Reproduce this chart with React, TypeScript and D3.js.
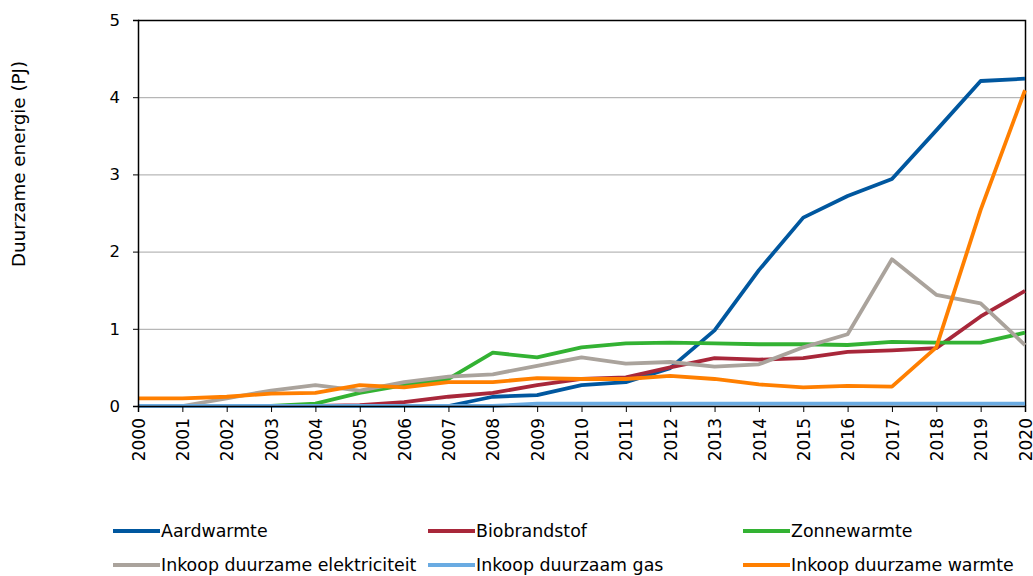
import { useEffect, useRef } from 'react';
import * as d3 from 'd3';

const years = d3.range(2000, 2021);

const seriesNames = [
  'Aardwarmte',
  'Biobrandstof',
  'Zonnewarmte',
  'Inkoop duurzame elektriciteit',
  'Inkoop duurzaam gas',
  'Inkoop duurzame warmte',
];

const seriesColors = ['#00579f', '#a8273a', '#33b233', '#aaa39c', '#6aabe2', '#ff7f00'];

const aardwarmte = [0, 0, 0, 0, 0, 0, 0, 0, 0.12, 0.14, 0.27, 0.31, 0.49, 0.98, 1.76, 2.44, 2.72, 2.94, 3.57, 4.21, 4.24];
const biobrandstof = [0, 0, 0, 0, 0, 0.01, 0.05, 0.12, 0.17, 0.27, 0.35, 0.37, 0.5, 0.62, 0.6, 0.62, 0.7, 0.72, 0.75, 1.16, 1.49];
const zonnewarmte = [0, 0, 0, 0, 0.03, 0.17, 0.27, 0.35, 0.69, 0.63, 0.76, 0.81, 0.82, 0.81, 0.8, 0.8, 0.79, 0.83, 0.82, 0.82, 0.95];
const inkoopElektriciteit = [0, 0, 0.1, 0.2, 0.27, 0.2, 0.31, 0.38, 0.41, 0.52, 0.63, 0.55, 0.57, 0.51, 0.54, 0.76, 0.93, 1.9, 1.44, 1.33, 0.79];
const inkoopGas = [0, 0, 0, 0, 0, 0, 0, 0, 0, 0.03, 0.03, 0.03, 0.03, 0.03, 0.03, 0.03, 0.03, 0.03, 0.03, 0.03, 0.03];
const inkoopWarmte = [0.1, 0.1, 0.12, 0.16, 0.17, 0.27, 0.24, 0.31, 0.31, 0.36, 0.35, 0.35, 0.39, 0.35, 0.28, 0.24, 0.26, 0.25, 0.76, 2.54, 4.09];

const seriesValues = [aardwarmte, biobrandstof, zonnewarmte, inkoopElektriciteit, inkoopGas, inkoopWarmte];

const yTicks = [0, 1, 2, 3, 4, 5];

export default function App() {
  const svgRef = useRef<SVGSVGElement>(null);

  useEffect(() => {
    if (!svgRef.current) return;
    const svg = d3.select(svgRef.current);
    svg.selectAll('*').remove();

    const width = 1033;
    const height = 576;
    const margin = { top: 20, right: 8, bottom: 170, left: 138 };
    const x0 = margin.left;
    const x1 = width - margin.right;
    const y0 = height - margin.bottom;
    const y1 = margin.top;
    const font = '"DejaVu Sans", Verdana, sans-serif';

    const xScale = d3.scaleLinear().domain([2000, 2020]).range([x0, x1]);
    const yScale = d3.scaleLinear().domain([0, 5]).range([y0, y1]);

    // Grid lines
    svg.append('g')
      .selectAll('line')
      .data(yTicks.filter((t) => t > 0 && t < 5))
      .join('line')
      .attr('x1', x0)
      .attr('x2', x1)
      .attr('y1', (d) => yScale(d) + 0.5)
      .attr('y2', (d) => yScale(d) + 0.5)
      .attr('stroke', '#a6a6a6')
      .attr('stroke-width', 1);

    // Frame (top and right)
    svg.append('path')
      .attr('d', `M${x0},${y1 + 0.5}H${x1 + 0.5}V${y0}`)
      .attr('fill', 'none')
      .attr('stroke', '#000')
      .attr('stroke-width', 1.5);

    // Lines
    const line = d3
      .line<number>()
      .x((_, i) => xScale(years[i]))
      .y((d) => yScale(d));

    seriesValues.forEach((vals, i) => {
      svg.append('path')
        .datum(vals)
        .attr('fill', 'none')
        .attr('stroke', seriesColors[i])
        .attr('stroke-width', 3.8)
        .attr('stroke-linejoin', 'round')
        .attr('d', line);
    });

    // Y axis
    const yAxis = d3.axisLeft(yScale).tickValues(yTicks).tickSize(5).tickFormat(d3.format('d'));
    const yg = svg.append('g').attr('transform', `translate(${x0},0)`).call(yAxis);
    yg.select('.domain').attr('stroke', '#000').attr('stroke-width', 1.5);
    yg.selectAll('.tick line').attr('stroke', '#000');
    yg.selectAll('text')
      .attr('font-family', font)
      .attr('font-size', '16.5px')
      .attr('fill', '#000')
      .attr('x', -18);

    // X axis
    const xAxis = d3.axisBottom(xScale).tickValues(years).tickSize(6).tickFormat(d3.format('d'));
    const xg = svg.append('g').attr('transform', `translate(0,${y0})`).call(xAxis);
    xg.select('.domain').attr('stroke', '#000').attr('stroke-width', 1.5);
    xg.selectAll('.tick line').attr('stroke', '#000');
    xg.selectAll('text')
      .attr('font-family', font)
      .attr('font-size', '17px')
      .attr('fill', '#000')
      .attr('transform', 'rotate(-90)')
      .attr('text-anchor', 'end')
      .attr('x', -12)
      .attr('y', 0)
      .attr('dy', '0.36em');

    // Y axis label
    svg.append('text')
      .attr('transform', 'rotate(-90)')
      .attr('x', -164)
      .attr('y', 25)
      .attr('text-anchor', 'middle')
      .attr('font-family', font)
      .attr('font-size', '18.3px')
      .attr('fill', '#000')
      .text('Duurzame energie (PJ)');

    // Legend
    const colX = [113, 428, 743];
    const rowY = [531, 565];
    seriesNames.forEach((name, i) => {
      const lx = colX[i % 3];
      const ly = rowY[Math.floor(i / 3)];
      const item = svg.append('g').attr('transform', `translate(${lx},${ly})`);
      item.append('line')
        .attr('x1', 0)
        .attr('x2', 47)
        .attr('y1', 0)
        .attr('y2', 0)
        .attr('stroke', seriesColors[i])
        .attr('stroke-width', 4);
      item.append('text')
        .attr('x', 48)
        .attr('y', 0)
        .attr('dy', '0.36em')
        .attr('font-family', font)
        .attr('font-size', '17.4px')
        .attr('fill', '#000')
        .text(name);
    });
  }, []);

  return (
    <svg
      ref={svgRef}
      width={1033}
      height={576}
      style={{ position: 'absolute', left: 0, top: 0, background: '#fff' }}
    />
  );
}
